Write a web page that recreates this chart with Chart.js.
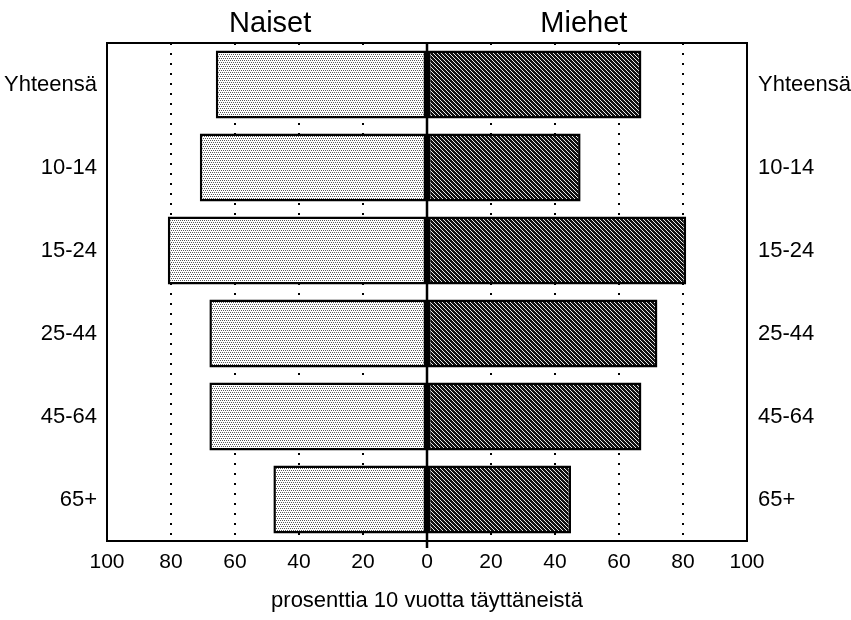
<!DOCTYPE html>
<html>
<head>
<meta charset="utf-8">
<script src="https://cdn.jsdelivr.net/npm/chart.js@4/dist/chart.umd.min.js"></script>
<style>
  html, body { margin: 0; padding: 0; background: #ffffff; }
  #wrap { width: 851px; height: 620px; }
</style>
</head>
<body>
<div id="wrap"><canvas id="c" width="851" height="620"></canvas></div>
<script>
const categories = ['Yhteensä', '10-14', '15-24', '25-44', '45-64', '65+'];
const naiset = [66, 71, 81, 68, 68, 48];
const miehet = [67, 48, 81, 72, 67, 45];
const groupTitles = ['Naiset', 'Miehet'];
const axisTitle = 'prosenttia 10 vuotta täyttäneistä';
const dottedGridValues = [-80, -60, -40, -20, 20, 40, 60, 80];

const FONT = '"Liberation Sans", Arial, Helvetica, sans-serif';

function makePattern(kind) {
  const t = document.createElement('canvas');
  t.width = 4; t.height = 4;
  const g = t.getContext('2d');
  if (kind === 'light') {
    g.fillStyle = '#ffffff'; g.fillRect(0, 0, 4, 4);
    g.fillStyle = '#5a5a5a';
    g.fillRect(0, 0, 1, 1);
    g.fillRect(2, 0, 1, 1);
    g.fillRect(1, 2, 1, 1);
    g.fillRect(3, 2, 1, 1);
  } else {
    g.fillStyle = '#111111'; g.fillRect(0, 0, 4, 4);
    g.fillStyle = '#e8e8e8';
    g.fillRect(0, 0, 1, 1);
    g.fillRect(1, 1, 1, 1);
    g.fillRect(2, 2, 1, 1);
    g.fillRect(3, 3, 1, 1);
  }
  return document.getElementById('c').getContext('2d').createPattern(t, 'repeat');
}

const framePlugin = {
  id: 'frame',
  afterDatasetsDraw(chart) {
    const { ctx, chartArea: a, scales } = chart;
    const x0 = scales.x.getPixelForValue(0);
    ctx.save();
    ctx.strokeStyle = '#000';
    ctx.lineWidth = 2.5;
    ctx.beginPath();
    ctx.moveTo(x0, a.top);
    ctx.lineTo(x0, a.bottom + 7);
    ctx.stroke();
    ctx.lineWidth = 2;
    ctx.strokeRect(a.left, a.top, a.right - a.left, a.bottom - a.top);
    ctx.fillStyle = '#000';
    ctx.font = '29px ' + FONT;
    ctx.textAlign = 'center';
    ctx.textBaseline = 'middle';
    ctx.fillText(groupTitles[0], scales.x.getPixelForValue(-49), 24);
    ctx.fillText(groupTitles[1], scales.x.getPixelForValue(49), 24);
    ctx.restore();
  }
};

new Chart(document.getElementById('c'), {
  type: 'bar',
  data: {
    labels: categories,
    datasets: [
      {
        label: groupTitles[0],
        data: naiset.map(v => -v),
        backgroundColor: makePattern('light'),
        borderColor: '#000',
        borderWidth: 2.5,
        borderSkipped: false,
        categoryPercentage: 1,
        barPercentage: 0.82
      },
      {
        label: groupTitles[1],
        data: miehet,
        backgroundColor: makePattern('dark'),
        borderColor: '#000',
        borderWidth: 2.5,
        borderSkipped: false,
        categoryPercentage: 1,
        barPercentage: 0.82
      }
    ]
  },
  options: {
    indexAxis: 'y',
    responsive: false,
    animation: false,
    layout: { padding: { top: 43, left: 0, right: 0, bottom: 0 } },
    plugins: {
      legend: { display: false },
      tooltip: { enabled: false }
    },
    scales: {
      x: {
        stacked: true,
        min: -100,
        max: 100,
        ticks: {
          stepSize: 20,
          color: '#000',
          font: { family: FONT, size: 21 },
          padding: 9,
          callback: v => Math.abs(v)
        },
        grid: {
          drawTicks: false,
          lineWidth: 2,
          color: ctx => (ctx.tick && dottedGridValues.includes(ctx.tick.value)) ? '#000' : 'rgba(0,0,0,0)'
        },
        border: { display: false, dash: [2, 8] },
        title: {
          display: true,
          text: axisTitle,
          color: '#000',
          font: { family: FONT, size: 22 },
          padding: { top: 0, bottom: 6 }
        },
        afterFit(scale) { scale.height = 79; }
      },
      y: {
        stacked: true,
        ticks: {
          color: '#000',
          font: { family: FONT, size: 22 },
          padding: 2
        },
        grid: { display: false },
        border: { display: false },
        afterFit(scale) { scale.width = 107; }
      },
      y2: {
        type: 'category',
        position: 'right',
        labels: categories,
        offset: true,
        ticks: {
          color: '#000',
          font: { family: FONT, size: 22 },
          padding: 3
        },
        grid: { display: false },
        border: { display: false },
        afterFit(scale) { scale.width = 104; }
      }
    }
  },
  plugins: [framePlugin]
});
</script>
</body>
</html>
